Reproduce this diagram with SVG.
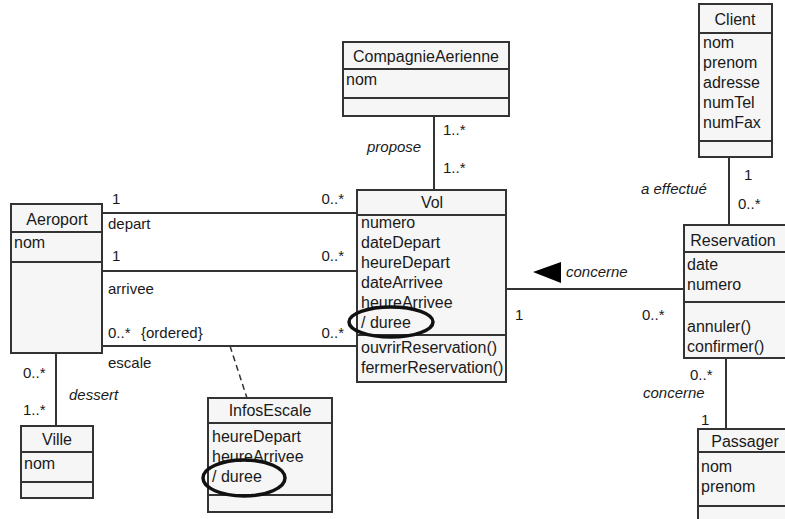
<svg xmlns="http://www.w3.org/2000/svg" width="785" height="519" viewBox="0 0 785 519">
<style>
.box{fill:#f6f6f6;stroke:#333;stroke-width:2}
.div{stroke:#333;stroke-width:2;fill:none}
.ln{stroke:#333;stroke-width:2;fill:none}
.dash{stroke:#333;stroke-width:1.5;stroke-dasharray:6,4;fill:none}
text{font-family:"Liberation Sans",Arial,sans-serif;font-size:16px;fill:#1a1a1a}
.t{text-anchor:middle}
.m{font-size:15px}
.i{font-style:italic;font-size:15px}
.ell{fill:none;stroke:#111;stroke-width:3.5}
</style>
<rect width="785" height="519" fill="#fff"/>
<g id="connectors">
<line class="ln" x1="434" y1="116" x2="434" y2="190"/>
<line class="ln" x1="729" y1="157" x2="729" y2="225"/>
<line class="ln" x1="102" y1="213" x2="357" y2="213"/>
<line class="ln" x1="102" y1="271" x2="357" y2="271"/>
<line class="ln" x1="102" y1="346" x2="357" y2="346"/>
<line class="ln" x1="506" y1="289" x2="684" y2="289"/>
<line class="ln" x1="726" y1="358" x2="726" y2="429"/>
<line class="ln" x1="56" y1="353" x2="56" y2="426"/>
<line class="dash" x1="230" y1="346" x2="247" y2="398"/>
<polygon points="533,272 561,262 561,283" fill="#000"/>
<text class="m" x="443" y="135">1..*</text>
<text class="m" x="443" y="173">1..*</text>
<text class="i" x="367" y="152">propose</text>
<text class="m" x="744" y="180">1</text>
<text class="m" x="738" y="209">0..*</text>
<text class="i" x="641" y="194">a effectué</text>
<text class="m" x="112" y="204">1</text>
<text class="m" x="108" y="229">depart</text>
<text class="m" x="112" y="261">1</text>
<text class="m" x="108" y="294">arrivee</text>
<text class="m" x="108" y="338">0..*</text>
<text class="m" x="141" y="338">{ordered}</text>
<text class="m" x="108" y="368">escale</text>
<text class="m" x="344" y="204" text-anchor="end">0..*</text>
<text class="m" x="344" y="261" text-anchor="end">0..*</text>
<text class="m" x="344" y="338" text-anchor="end">0..*</text>
<text class="i" x="566" y="277">concerne</text>
<text class="m" x="515" y="320">1</text>
<text class="m" x="642" y="320">0..*</text>
<text class="m" x="690" y="380">0..*</text>
<text class="i" x="643" y="398">concerne</text>
<text class="m" x="701" y="425">1</text>
<text class="m" x="23" y="378">0..*</text>
<text class="m" x="23" y="415">1..*</text>
<text class="i" x="69" y="400">dessert</text>
</g>
<g id="CompagnieAerienne">
<rect class="box" x="343" y="42" width="166" height="74"/>
<line class="div" x1="343" y1="69" x2="509" y2="69"/>
<line class="div" x1="343" y1="98" x2="509" y2="98"/>
<text class="t" x="426" y="62">CompagnieAerienne</text>
<text x="346" y="85">nom</text>
</g>
<g id="Client">
<rect class="box" x="699" y="4" width="73" height="153"/>
<line class="div" x1="699" y1="33" x2="772" y2="33"/>
<line class="div" x1="699" y1="141" x2="772" y2="141"/>
<text class="t" x="735" y="25">Client</text>
<text x="703" y="48">nom</text>
<text x="703" y="68">prenom</text>
<text x="703" y="88">adresse</text>
<text x="703" y="108">numTel</text>
<text x="703" y="128">numFax</text>
</g>
<g id="Aeroport">
<rect class="box" x="11" y="204" width="91" height="149"/>
<line class="div" x1="11" y1="232" x2="102" y2="232"/>
<line class="div" x1="11" y1="262" x2="102" y2="262"/>
<text class="t" x="57" y="225">Aeroport</text>
<text x="14" y="248">nom</text>
</g>
<g id="Vol">
<rect class="box" x="357" y="190" width="149" height="192"/>
<line class="div" x1="357" y1="215" x2="506" y2="215"/>
<line class="div" x1="357" y1="335" x2="506" y2="335"/>
<text class="t" x="432" y="208">Vol</text>
<text x="361" y="228">numero</text>
<text x="361" y="248">dateDepart</text>
<text x="361" y="268">heureDepart</text>
<text x="361" y="288">dateArrivee</text>
<text x="361" y="308">heureArrivee</text>
<text x="361" y="328">/ duree</text>
<text x="361" y="353">ouvrirReservation()</text>
<text x="361" y="373">fermerReservation()</text>
<ellipse class="ell" cx="391" cy="322" rx="42" ry="15"/>
</g>
<g id="Reservation">
<rect class="box" x="684" y="225" width="120" height="133"/>
<line class="div" x1="684" y1="252" x2="804" y2="252"/>
<line class="div" x1="684" y1="302" x2="804" y2="302"/>
<text class="t" x="733" y="246">Reservation</text>
<text x="687" y="270">date</text>
<text x="687" y="290">numero</text>
<text x="687" y="332">annuler()</text>
<text x="687" y="352">confirmer()</text>
</g>
<g id="Passager">
<rect class="box" x="698" y="429" width="110" height="110"/>
<line class="div" x1="698" y1="452" x2="808" y2="452"/>
<line class="div" x1="698" y1="506" x2="808" y2="506"/>
<text class="t" x="745" y="447">Passager</text>
<text x="701" y="472">nom</text>
<text x="701" y="492">prenom</text>
</g>
<g id="InfosEscale">
<rect class="box" x="208" y="398" width="124" height="114"/>
<line class="div" x1="208" y1="423" x2="332" y2="423"/>
<line class="div" x1="208" y1="495" x2="332" y2="495"/>
<text class="t" x="270" y="416">InfosEscale</text>
<text x="212" y="442">heureDepart</text>
<text x="212" y="462">heureArrivee</text>
<text x="212" y="482">/ duree</text>
<ellipse class="ell" cx="244" cy="478" rx="41" ry="18"/>
</g>
<g id="Ville">
<rect class="box" x="21" y="426" width="72" height="72"/>
<line class="div" x1="21" y1="452" x2="93" y2="452"/>
<line class="div" x1="21" y1="482" x2="93" y2="482"/>
<text class="t" x="57" y="445">Ville</text>
<text x="24" y="469">nom</text>
</g>
</svg>
